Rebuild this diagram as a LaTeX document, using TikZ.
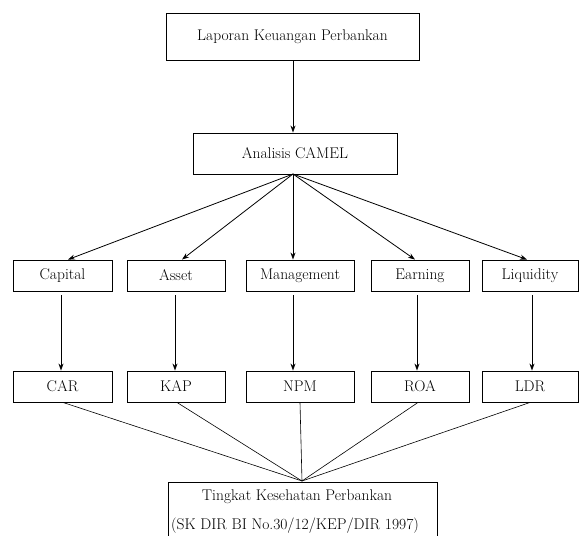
\documentclass[tikz,border=0pt]{standalone}
\usetikzlibrary{arrows.meta}
\begin{document}
\begin{tikzpicture}[x=1pt,y=-1pt,
  box/.style={draw,line width=0.9pt,inner sep=0pt,font=\fontsize{15.5}{18}\selectfont},
  arr/.style={line width=0.8pt,-{Stealth[length=7pt,width=5pt]}},
  ln/.style={line width=0.6pt}]
\useasboundingbox (0,0) rectangle (579,536);
\node[box,minimum width=253pt,minimum height=47pt] (lap) at (292.5,36.5) {Laporan Keuangan Perbankan};
\node[box,minimum width=204pt,minimum height=41pt] (cam) at (295,153.5) {Analisis CAMEL};
\foreach \n/\t/\xa/\xb in {cap/Capital/13/112, ast/Asset/127/225, man/Management/246/354, ear/Earning/371/469, liq/Liquidity/482/578}{
  \node[box,minimum width={\xb-\xa},minimum height=31pt] (\n) at ({(\xa+\xb)/2},275.5) {\t};
}
\foreach \n/\t/\xa/\xb in {car/CAR/13/112, kap/KAP/127/225, npm/NPM/246/354, roa/ROA/371/469, ldr/LDR/482/578}{
  \node[box,minimum width={\xb-\xa},minimum height=31pt] (\n) at ({(\xa+\xb)/2},386.5) {\t};
}
\coordinate (tk) at (302,481);
\draw[line width=0.9pt] (168,560) |- (437,482) -- (437,560);
\node[font=\fontsize{15.5}{18}\selectfont] (t1) at (297,497) {Tingkat Kesehatan Perbankan};
\node[font=\fontsize{15.5}{18}\selectfont] (t2) at (295,526) {(SK DIR BI No.30/12/KEP/DIR 1997)};
\coordinate (camb) at (293,174);
\draw[arr] (lap.south -| camb) -- (camb |- cam.north);
\draw[arr] (camb) -- (cap.north -| 68,0);
\draw[arr] (camb) -- (ast.north -| 182,0);
\draw[arr] (camb) -- (man.north -| 293,0);
\draw[arr] (camb) -- (ear.north -| 415,0);
\draw[arr] (camb) -- (liq.north -| 527,0);
\draw[arr] (61,295) -- (car.north -| 61,0);
\draw[arr] (175,295) -- (kap.north -| 175,0);
\draw[arr] (293,295) -- (npm.north -| 293,0);
\draw[arr] (417,295) -- (roa.north -| 417,0);
\draw[arr] (532,295) -- (ldr.north -| 532,0);
\draw[ln] (car.south -| 63,0) -- (tk);
\draw[ln] (kap.south -| 177,0) -- (tk);
\draw[ln] (npm.south -| 300,0) -- (tk);
\draw[ln] (roa.south -| 418,0) -- (tk);
\draw[ln] (ldr.south -| 530,0) -- (tk);
\end{tikzpicture}
\end{document}
